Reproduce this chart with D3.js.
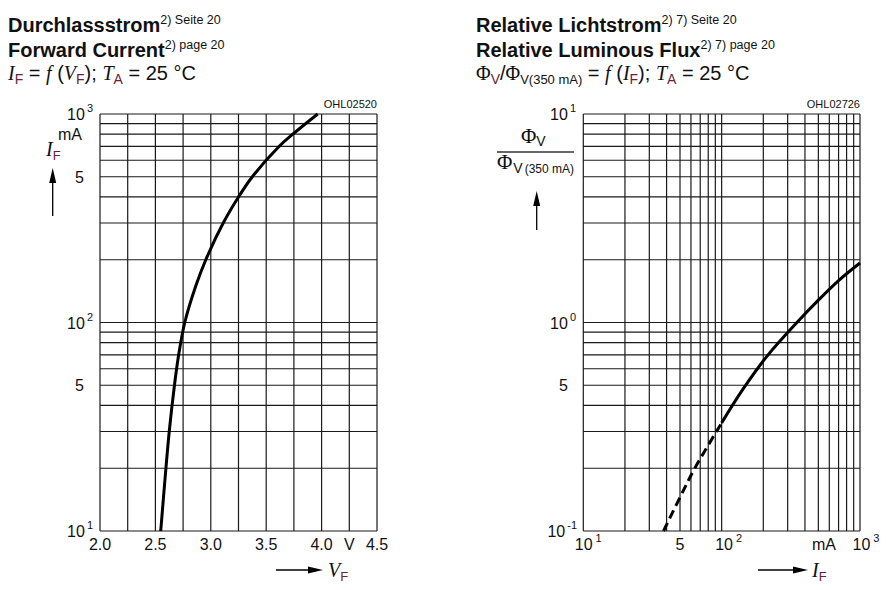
<!DOCTYPE html>
<html><head><meta charset="utf-8">
<script src="https://cdn.jsdelivr.net/npm/d3@7"></script>
<style>
html,body{margin:0;padding:0;background:#fff;}
svg{display:block;}
text{font-family:"Liberation Sans",Arial,sans-serif;fill:#111;}
.it{font-family:"Liberation Serif","Times New Roman",serif;font-style:italic;}
.ser{font-family:"Liberation Serif","Times New Roman",serif;}
.sub{fill:#6b1d3c;}
</style></head>
<body>
<svg id="c" width="892" height="590"></svg>
<script>
// ---- Data ----
// Left chart: forward current vs forward voltage
const vfTicks = [2.0, 2.5, 3.0, 3.5, 4.0, 4.5];
const vfGrid = [2.0, 2.25, 2.5, 2.75, 3.0, 3.25, 3.5, 3.75, 4.0, 4.25, 4.5];
const vfCurve = [2.548, 2.595, 2.625, 2.672, 2.710, 2.765, 2.865, 2.955, 3.112, 3.250, 3.375, 3.618, 3.740, 3.965];
const ifCurve = [10, 20, 30, 50, 70, 100, 150, 200, 300, 400, 500, 700, 800, 1000];
const ifDomain = [10, 1000];
// Right chart: relative luminous flux vs forward current
const ifDomainR = [10, 1000];
const phiDomain = [0.1, 10];
const ifDashed = [38, 50, 64, 100];
const phiDashed = [0.1, 0.145, 0.2, 0.33];
const ifSolid = [100, 143, 213, 350, 500, 700, 1000];
const phiSolid = [0.33, 0.48, 0.69, 1.0, 1.28, 1.59, 1.93];

const svg = d3.select("#c");
const GRID = "#1a1a1a";

function logGridValues(lo, hi) {
  const v = [];
  for (let d = lo; d < hi; d *= 10) for (let m = 1; m <= 9; m++) v.push(d * m);
  v.push(hi);
  return v;
}

// ---- Left chart ----
const xL = d3.scaleLinear().domain([2.0, 4.5]).range([100, 377]);
const yL = d3.scaleLog().domain(ifDomain).range([531, 114]);
const gL = svg.append("g");
gL.selectAll("line.v").data(vfGrid).join("line")
  .attr("x1", d => xL(d)).attr("x2", d => xL(d)).attr("y1", yL(1000)).attr("y2", yL(10))
  .attr("stroke", GRID).attr("stroke-width", 1.2);
gL.selectAll("line.h").data(logGridValues(10, 1000)).join("line")
  .attr("y1", d => yL(d)).attr("y2", d => yL(d)).attr("x1", xL(2.0)).attr("x2", xL(4.5))
  .attr("stroke", GRID).attr("stroke-width", 1.2);
gL.append("path")
  .datum(vfCurve.map((v, i) => [v, ifCurve[i]]))
  .attr("d", d3.line().x(d => xL(d[0])).y(d => yL(d[1])).curve(d3.curveCatmullRom.alpha(0.5)))
  .attr("fill", "none").attr("stroke", "#000").attr("stroke-width", 3);

// x tick labels
gL.selectAll("text.xt").data(vfTicks).join("text")
  .attr("x", d => xL(d)).attr("y", 550).attr("text-anchor", "middle")
  .attr("font-size", 16).text(d => d.toFixed(1));
gL.append("text").attr("x", xL(4.25)).attr("y", 550).attr("text-anchor", "middle")
  .attr("font-size", 16).text("V");

function powLabel(g, x, y, exp) {
  const t = g.append("text").attr("x", x).attr("y", y).attr("font-size", 16).attr("text-anchor", "end");
  t.append("tspan").text("10");
  t.append("tspan").attr("dy", -8).attr("dx", 2).attr("font-size", 11).text(exp);
  return t;
}
// y tick labels left
powLabel(gL, 93, yL(1000) + 6, "3");
powLabel(gL, 93, yL(100) + 6, "2");
powLabel(gL, 93, yL(10) + 6, "1");
[500, 50].forEach(v => gL.append("text").attr("x", 84).attr("y", yL(v) + 6)
  .attr("text-anchor", "end").attr("font-size", 16).text("5"));
gL.append("text").attr("x", 58).attr("y", 140).attr("font-size", 16).text("mA");
const ifl = gL.append("text").attr("x", 46).attr("y", 156).attr("font-size", 20);
ifl.append("tspan").attr("class", "it").text("I");
ifl.append("tspan").attr("class", "sub").attr("dy", 4).attr("font-size", 13).text("F");

function arrowUp(g, x, yTop, yBot) {
  g.append("line").attr("x1", x).attr("x2", x).attr("y1", yTop + 10).attr("y2", yBot)
    .attr("stroke", "#000").attr("stroke-width", 1.3);
  g.append("path").attr("d", `M${x},${yTop} L${x - 3.5},${yTop + 15} L${x + 3.5},${yTop + 15} Z`).attr("fill", "#000");
}
function arrowRight(g, xL0, xR, y) {
  g.append("line").attr("x1", xL0).attr("x2", xR - 10).attr("y1", y).attr("y2", y)
    .attr("stroke", "#000").attr("stroke-width", 1.3);
  g.append("path").attr("d", `M${xR},${y} L${xR - 15},${y - 3.5} L${xR - 15},${y + 3.5} Z`).attr("fill", "#000");
}
arrowUp(gL, 52.7, 168, 216);
arrowRight(gL, 276, 323, 570);
const vfl = gL.append("text").attr("x", 328).attr("y", 577).attr("font-size", 20);
vfl.append("tspan").attr("class", "it").text("V");
vfl.append("tspan").attr("class", "sub").attr("dy", 4).attr("font-size", 13).text("F");
gL.append("text").attr("x", 377).attr("y", 108).attr("text-anchor", "end").attr("font-size", 11).text("OHL02520");

// ---- Right chart ----
const xR = d3.scaleLog().domain(ifDomainR).range([583.3, 860]);
const yR = d3.scaleLog().domain(phiDomain).range([531, 114]);
const gR = svg.append("g");
gR.selectAll("line.v").data(logGridValues(10, 1000)).join("line")
  .attr("x1", d => xR(d)).attr("x2", d => xR(d)).attr("y1", yR(10)).attr("y2", yR(0.1))
  .attr("stroke", GRID).attr("stroke-width", 1.2);
gR.selectAll("line.h").data(logGridValues(0.1, 10)).join("line")
  .attr("y1", d => yR(d)).attr("y2", d => yR(d)).attr("x1", xR(10)).attr("x2", xR(1000))
  .attr("stroke", GRID).attr("stroke-width", 1.2);
const lineR = d3.line().x(d => xR(d[0])).y(d => yR(d[1])).curve(d3.curveCatmullRom.alpha(0.5));
gR.append("path").datum(ifDashed.map((v, i) => [v, phiDashed[i]]))
  .attr("d", lineR).attr("fill", "none").attr("stroke", "#000").attr("stroke-width", 3)
  .attr("stroke-dasharray", "9,5");
gR.append("path").datum(ifSolid.map((v, i) => [v, phiSolid[i]]))
  .attr("d", lineR).attr("fill", "none").attr("stroke", "#000").attr("stroke-width", 3);

powLabel(gR, 576, yR(10) + 6, "1");
powLabel(gR, 576, yR(1) + 6, "0");
powLabel(gR, 577, yR(0.1) + 6, "-1");
gR.append("text").attr("x", 568).attr("y", yR(0.5) + 6).attr("text-anchor", "end").attr("font-size", 16).text("5");

function powLabelC(g, x, y, exp) {
  const t = g.append("text").attr("x", x - 8.5).attr("y", y).attr("font-size", 16);
  t.append("tspan").text("10");
  t.append("tspan").attr("dy", -8).attr("dx", 3).attr("font-size", 11).text(exp);
}
powLabelC(gR, xR(10), 550, "1");
powLabelC(gR, xR(100) + 2, 550, "2");
powLabelC(gR, xR(1000) + 1, 550, "3");
gR.append("text").attr("x", xR(50)).attr("y", 550).attr("text-anchor", "middle").attr("font-size", 16).text("5");
gR.append("text").attr("x", 824).attr("y", 550).attr("text-anchor", "middle").attr("font-size", 16).text("mA");
arrowRight(gR, 758, 808, 570);
const ifr = gR.append("text").attr("x", 812).attr("y", 577).attr("font-size", 20);
ifr.append("tspan").attr("class", "it").text("I");
ifr.append("tspan").attr("class", "sub").attr("dy", 4).attr("font-size", 13).text("F");
gR.append("text").attr("x", 860).attr("y", 108).attr("text-anchor", "end").attr("font-size", 11).text("OHL02726");

// fraction label
const num = gR.append("text").attr("x", 521).attr("y", 143).attr("font-size", 21);
num.append("tspan").attr("class", "ser").text("Φ");
num.append("tspan").attr("dy", 3).attr("font-size", 14).text("V");
gR.append("line").attr("x1", 497).attr("x2", 574).attr("y1", 152).attr("y2", 152).attr("stroke", "#333").attr("stroke-width", 1.3);
const den = gR.append("text").attr("x", 497).attr("y", 169).attr("font-size", 21);
den.append("tspan").attr("class", "ser").text("Φ");
den.append("tspan").attr("dy", 4).attr("dx", 1).attr("font-size", 14).text("V");
den.append("tspan").attr("font-size", 12).attr("dx", 2).text("(350 mA)");
arrowUp(gR, 536.7, 191, 230);

// ---- Titles ----
function title(x, l1, sup1, l2, sup2) {
  const t1 = svg.append("text").attr("x", x).attr("y", 32).attr("font-size", 20).attr("font-weight", "bold");
  t1.append("tspan").text(l1);
  t1.append("tspan").attr("dy", -8).attr("font-size", 12.5).attr("font-weight", "normal").text(sup1);
  const t2 = svg.append("text").attr("x", x).attr("y", 57).attr("font-size", 20).attr("font-weight", "bold");
  t2.append("tspan").text(l2);
  t2.append("tspan").attr("dy", -8).attr("font-size", 12.5).attr("font-weight", "normal").text(sup2);
}
title(8, "Durchlassstrom", "2) Seite 20", "Forward Current", "2) page 20");
title(476, "Relative Lichtstrom", "2) 7) Seite 20", "Relative Luminous Flux", "2) 7) page 20");

// third line left
const t3 = svg.append("text").attr("x", 8).attr("y", 80).attr("font-size", 20);
t3.append("tspan").attr("class", "it").text("I");
t3.append("tspan").attr("class", "sub").attr("dy", 4).attr("font-size", 14).text("F");
t3.append("tspan").attr("dy", -4).text(" = ");
t3.append("tspan").attr("class", "it").text("f");
t3.append("tspan").text(" (");
t3.append("tspan").attr("class", "it").text("V");
t3.append("tspan").attr("class", "sub").attr("dy", 4).attr("font-size", 14).text("F");
t3.append("tspan").attr("dy", -4).text("); ");
t3.append("tspan").attr("class", "it").text("T");
t3.append("tspan").attr("class", "sub").attr("dy", 4).attr("font-size", 14).text("A");
t3.append("tspan").attr("dy", -4).text(" = 25 °C");

// third line right
const r3 = svg.append("text").attr("x", 476).attr("y", 80).attr("font-size", 20);
r3.append("tspan").attr("class", "ser").text("Φ");
r3.append("tspan").attr("class", "sub").attr("dy", 4).attr("font-size", 14).text("V");
r3.append("tspan").attr("dy", -4).text("/");
r3.append("tspan").attr("class", "ser").text("Φ");
r3.append("tspan").attr("dy", 4).attr("font-size", 13).text("V(350 mA)");
r3.append("tspan").attr("dy", -4).text(" = ");
r3.append("tspan").attr("class", "it").text("f");
r3.append("tspan").text(" (");
r3.append("tspan").attr("class", "it").text("I");
r3.append("tspan").attr("class", "sub").attr("dy", 4).attr("font-size", 14).text("F");
r3.append("tspan").attr("dy", -4).text("); ");
r3.append("tspan").attr("class", "it").text("T");
r3.append("tspan").attr("class", "sub").attr("dy", 4).attr("font-size", 14).text("A");
r3.append("tspan").attr("dy", -4).text(" = 25 °C");
</script>
</body></html>
